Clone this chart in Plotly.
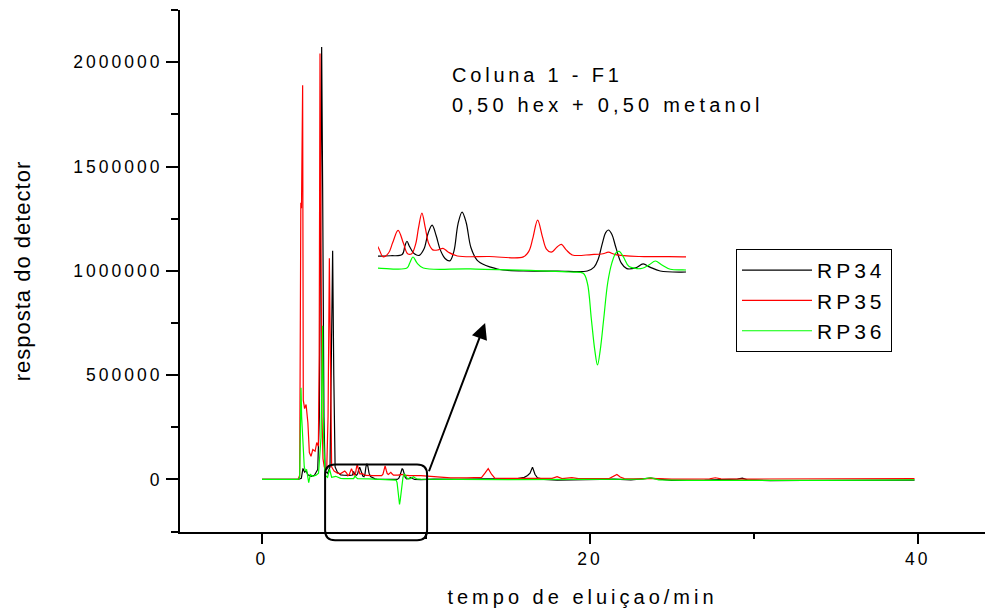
import plotly.graph_objects as go

# ---------------- data ----------------
series_names = ["RP34", "RP35", "RP36"]
series_colors = ["#000000", "#ff0000", "#00ff00"]

rp34_t = [0.0, 2.2, 2.4, 2.5, 2.6, 2.7, 2.8, 3.0, 3.2, 3.4,
          3.5, 3.58, 3.64, 3.7, 3.78, 3.85, 4.0, 4.15, 4.22, 4.31,
          4.38, 4.46, 4.6, 4.8, 5.0,
          5.165, 5.35, 5.52, 5.56, 5.59, 5.63, 5.70, 5.77, 5.84, 5.90,
          5.96, 6.02, 6.08, 6.15, 6.22, 6.28, 6.34, 6.40, 6.46, 6.53,
          6.62, 6.75, 6.9, 7.0, 7.3, 7.8, 8.24, 8.34, 8.40, 8.46,
          8.51, 8.55, 8.60, 8.66, 8.74, 8.82, 8.95, 9.06, 9.16, 9.31,
          9.69,
          10.5, 12.0, 13.5, 15.5, 16.0, 16.2, 16.35, 16.5, 16.65, 16.8,
          17.2, 18.0, 20.0, 21.5, 22.5, 23.7, 25.0, 27.0, 29.0, 29.3,
          29.6, 31.0, 33.0, 35.0, 37.0, 39.8]
rp34_v = [0, 0, 5000, 53000, 35000, 40000, 22000, 15000, 20000, 48000,
          300000, 1500000, 2073000, 1400000, 300000, 40000, 30000, 60000, 500000, 1097000,
          500000, 60000, 35000, 22000, 20000,
          19000, 19500, 21000, 32000, 38000, 31000, 22000, 20000, 28000, 48000,
          58700, 45000, 27000, 16000, 13000, 25000, 60000, 75300, 62000, 30000,
          14000, 7000, 3000, 1300, 0, 0, 0, 5000, 15000, 35000,
          49000, 52400, 47000, 30000, 10000, 3000, 4000, 9000, 5000, 0,
          -1300,
          2000, 0, 3000, 3000, 10000, 19000, 30000, 59000, 25000, 8000,
          0, -3000, 0, 2000, -2000, 6000, -4000, -3000, 2000, 6000,
          -2000, -6000, -5000, -4000, -3000, -3000]

rp35_t = [0.0, 2.2, 2.3, 2.34, 2.37, 2.41, 2.48, 2.52, 2.6, 2.69,
          2.8, 2.89, 2.99, 3.10, 3.24, 3.34, 3.44, 3.49, 3.54, 3.6,
          3.66, 3.72, 3.8, 3.95, 4.03, 4.11, 4.18, 4.25, 4.4, 4.6,
          4.8, 5.05,
          5.165, 5.24, 5.32, 5.38, 5.46, 5.54, 5.60, 5.66, 5.72, 5.76,
          5.81, 5.86, 5.91, 5.97, 6.05, 6.12, 6.20, 6.33, 6.8, 7.30,
          7.38, 7.44, 7.51, 7.58, 7.64, 7.71, 7.80, 7.86, 7.93, 8.02,
          8.3, 8.47, 8.55, 8.65, 9.0, 9.69,
          10.5, 11.5, 12.5, 13.4, 13.6, 13.8, 14.0, 14.2, 15.0, 16.0,
          17.7, 18.0, 18.3, 18.9, 19.3, 21.2, 21.45, 21.65, 21.85, 22.1,
          23.0, 23.7, 25.0, 27.3, 27.65, 28.0, 30.0, 33.0, 36.0, 39.8]
rp35_v = [0, 0, 20000, 600000, 1327000, 1300000, 1890000, 380000, 340000, 359000,
          272000, 129000, 111000, 143000, 135000, 177000, 159000, 600000, 2042000, 1200000,
          300000, 100000, 60000, 50000, 300000, 1061000, 400000, 60000, 40000, 30000,
          28000, 40000,
          30600, 18000, 23000, 36000, 52000, 35000, 22000, 22000, 35000, 55000,
          74000, 55000, 35000, 27000, 27000, 29000, 24000, 19200, 18500, 18000,
          25000, 42000, 65000, 44000, 28000, 24000, 31000, 34000, 27000, 20500,
          21000, 22000, 24000, 21000, 18500, 18000,
          12000, 8000, 8000, 10000, 30000, 52000, 25000, 6000, 5000, 4000,
          5000, 13000, 4000, 9000, 4000, 5000, 15000, 24000, 12000, 4000,
          3000, 5000, 2000, 3000, 8000, 3000, 2000, 3000, 4000, 4000]

rp36_t = [0.0, 2.2, 2.3, 2.38, 2.42, 2.47, 2.52, 2.58, 2.65, 2.72,
          2.85, 2.95, 3.1, 3.3, 3.45, 3.6, 3.70, 3.76, 3.85, 4.0,
          4.12, 4.25, 4.5, 4.8, 5.0,
          5.165, 5.59, 5.63, 5.68, 5.74, 5.83, 6.52, 7.99, 8.18, 8.24,
          8.30, 8.35, 8.39, 8.43, 8.48, 8.54, 8.60, 8.66, 8.71, 8.77,
          8.85, 8.97, 9.05, 9.15, 9.24, 9.33, 9.46, 9.69,
          10.5, 12.0, 15.0, 18.0, 20.0, 23.2, 23.7, 24.2, 26.0, 30.0,
          34.0, 38.0, 39.8]
rp36_v = [0, 0, 10000, 440000, 300000, 206000, 180000, 60000, 40000, 48000,
          -15000, 24000, 15000, 20000, 30000, 200000, 737000, 200000, 20000, 10000,
          50000, 10000, 15000, 5000, 4000,
          3800, 3800, 10000, 17900, 10000, 3800, 2600, -1300, -3000, -15000,
          -62000, -101000, -120000, -101000, -62000, -15000, 10000, 23000, 25000, 18000,
          6000, 3000, 3500, 8000, 12800, 8000, 2200, 1300,
          0, 0, -1000, 0, 0, 2000, 8000, -2000, -4000, -5000,
          -4000, -3000, -2000]

series_t = [rp34_t, rp35_t, rp36_t]
series_v = [rp34_v, rp35_v, rp36_v]

x_tick_vals = [0, 20, 40]
x_tick_labels = ["0", "20", "40"]
y_tick_vals = [0, 500000, 1000000, 1500000, 2000000]
y_tick_labels = ["0", "500000", "1000000", "1500000", "2000000"]

# zoomed window (time, response) marked by the rounded box, and arrow end-points
zoom_box_t = [3.85, 10.07]
zoom_box_v = [-292000, 71800]
arrow_tail = (10.15, 32000)
arrow_head = (13.61, 750000)

# ---------------- layout constants ----------------
X_RANGE = [-5.0, 44.1]
Y_RANGE = [-252000, 2251000]
FIG_W, FIG_H = 985, 612
M_L, M_R, M_T, M_B = 180, 0, 10, 80
PLOT_W = FIG_W - M_L - M_R
PLOT_H = FIG_H - M_T - M_B
FONT = "Liberation Sans, Arial, sans-serif"


def spaced(text, px):
    return '<span style="letter-spacing:%gpx">%s</span>' % (px, text)


def to_paper_x(t):
    return (t - X_RANGE[0]) / (X_RANGE[1] - X_RANGE[0])


def to_paper_y(v):
    return (v - Y_RANGE[0]) / (Y_RANGE[1] - Y_RANGE[0])


fig = go.Figure()

# main chromatograms
for name, color, t, v in zip(series_names, series_colors, series_t, series_v):
    fig.add_trace(go.Scatter(
        x=t, y=v, mode="lines", name=spaced(name, 4),
        line=dict(color=color, width=1.2),
        xaxis="x", yaxis="y", hoverinfo="skip"))

# magnified inset of the same data
for name, color, t, v in zip(series_names, series_colors, series_t, series_v):
    fig.add_trace(go.Scatter(
        x=t, y=v, mode="lines", name=name, showlegend=False,
        line=dict(color=color, width=1.2, shape="spline", smoothing=1.0),
        xaxis="x2", yaxis="y2", hoverinfo="skip"))

# rounded box marking the zoomed window
x0, x1 = to_paper_x(zoom_box_t[0]), to_paper_x(zoom_box_t[1])
y0, y1 = to_paper_y(zoom_box_v[0]), to_paper_y(zoom_box_v[1])
rx, ry = 10.0 / PLOT_W, 10.0 / PLOT_H
path = (f"M{x0+rx},{y1} L{x1-rx},{y1} Q{x1},{y1} {x1},{y1-ry} "
        f"L{x1},{y0+ry} Q{x1},{y0} {x1-rx},{y0} "
        f"L{x0+rx},{y0} Q{x0},{y0} {x0},{y0+ry} "
        f"L{x0},{y1-ry} Q{x0},{y1} {x0+rx},{y1} Z")
fig.add_shape(type="path", path=path, xref="paper", yref="paper",
              line=dict(color="black", width=2), fillcolor="rgba(0,0,0,0)")

annotations = [
    dict(x=arrow_head[0], y=arrow_head[1], xref="x", yref="y",
         ax=arrow_tail[0], ay=arrow_tail[1], axref="x", ayref="y",
         text="", showarrow=True, arrowhead=2, arrowsize=1.6,
         arrowwidth=2, arrowcolor="black"),
    dict(x=(450 - M_L) / PLOT_W, y=(M_T + PLOT_H - 75) / PLOT_H,
         xref="paper", yref="paper", xanchor="left", yanchor="middle",
         text=spaced("Coluna 1 - F1", 3.8), showarrow=False,
         font=dict(family=FONT, size=20, color="black")),
    dict(x=(450 - M_L) / PLOT_W, y=(M_T + PLOT_H - 105) / PLOT_H,
         xref="paper", yref="paper", xanchor="left", yanchor="middle",
         text=spaced("0,50 hex + 0,50 metanol", 4.2), showarrow=False,
         font=dict(family=FONT, size=20, color="black")),
]

tickfont = dict(family=FONT, size=17.5, color="black")

fig.update_layout(
    width=FIG_W, height=FIG_H,
    margin=dict(l=M_L, r=M_R, t=M_T, b=M_B, pad=0),
    paper_bgcolor="white", plot_bgcolor="rgba(0,0,0,0)",
    font=dict(family=FONT, color="black"),
    showlegend=True,
    legend=dict(x=(736 - M_L) / PLOT_W, y=(M_T + PLOT_H - 249) / PLOT_H,
                xanchor="left", yanchor="top",
                bordercolor="black", borderwidth=1, bgcolor="white",
                font=dict(family=FONT, size=21, color="black"),
                itemwidth=70),
    xaxis=dict(
        domain=[0, 1], range=X_RANGE, showgrid=False, zeroline=False,
        showline=True, linecolor="black", linewidth=2,
        ticks="outside", ticklen=10, tickwidth=2, tickcolor="black",
        tickmode="array", tickvals=x_tick_vals,
        ticktext=[spaced(s, 3) for s in x_tick_labels], tickfont=tickfont,
        minor=dict(ticks="outside", ticklen=5, tickwidth=2, tickcolor="black",
                   tickmode="linear", tick0=0, dtick=10),
        title=dict(text=spaced("tempo de eluiçao/min", 4),
                   font=dict(family=FONT, size=20, color="black"), standoff=22),
        anchor="y"),
    yaxis=dict(
        domain=[0, 1], range=Y_RANGE, showgrid=False, zeroline=False,
        showline=True, linecolor="black", linewidth=2,
        ticks="outside", ticklen=12, tickwidth=2, tickcolor="black",
        tickmode="array", tickvals=y_tick_vals,
        ticktext=[spaced(s, 3) for s in y_tick_labels], tickfont=tickfont,
        minor=dict(ticks="outside", ticklen=7, tickwidth=2, tickcolor="black",
                   tickmode="linear", tick0=0, dtick=250000),
        title=dict(text=spaced("resposta do detector", 1),
                   font=dict(family=FONT, size=22, color="black"), standoff=37),
        anchor="x"),
    xaxis2=dict(domain=[(378 - M_L) / PLOT_W, (686 - M_L) / PLOT_W],
                range=[5.165, 9.69], visible=False, anchor="y2"),
    yaxis2=dict(domain=[(M_T + PLOT_H - 372) / PLOT_H, (M_T + PLOT_H - 196) / PLOT_H],
                range=[-129000, 95800], visible=False, anchor="x2"),
    annotations=annotations,
)

fig.write_html("out.html")
